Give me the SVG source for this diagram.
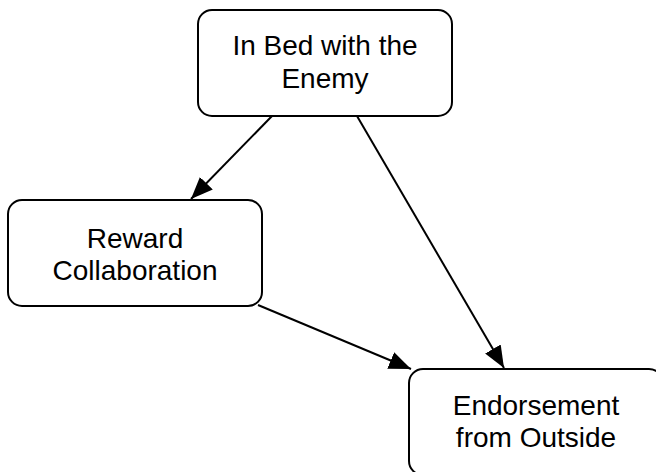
<svg xmlns="http://www.w3.org/2000/svg" width="656" height="472" viewBox="0 0 656 472">
<style>
.box{fill:#fff;stroke:#000;stroke-width:2}
.lbl{font-family:"Liberation Sans",Arial,sans-serif;font-size:28px;fill:#000;text-anchor:middle}
.edge{fill:none;stroke:#000;stroke-width:2}
</style>
<defs>
<marker id="arr" markerUnits="userSpaceOnUse" markerWidth="24" markerHeight="20" refX="22" refY="10" orient="auto" viewBox="0 0 24 20">
<path d="M0,1 L22,10 L0,19 z" fill="#000"/>
</marker>
</defs>
<rect width="656" height="472" fill="#fff"/>
<g id="connectors">
<path class="edge" d="M272,116 L191,199" marker-end="url(#arr)"/>
<path class="edge" d="M357,116 L504,368" marker-end="url(#arr)"/>
<path class="edge" d="M258,305 L411,369" marker-end="url(#arr)"/>
</g>
<g id="n-enemy">
<rect class="box" x="198" y="10" width="254" height="106" rx="14"/>
<text class="lbl" x="325" y="55">In Bed with the</text>
<text class="lbl" x="325" y="88">Enemy</text>
</g>
<g id="n-reward">
<rect class="box" x="8" y="200" width="254" height="106" rx="14"/>
<text class="lbl" x="135" y="248">Reward</text>
<text class="lbl" x="135" y="280">Collaboration</text>
</g>
<g id="n-endorse">
<rect class="box" x="409" y="369" width="254" height="106" rx="14"/>
<text class="lbl" x="536" y="415">Endorsement</text>
<text class="lbl" x="536" y="447">from Outside</text>
</g>
</svg>
